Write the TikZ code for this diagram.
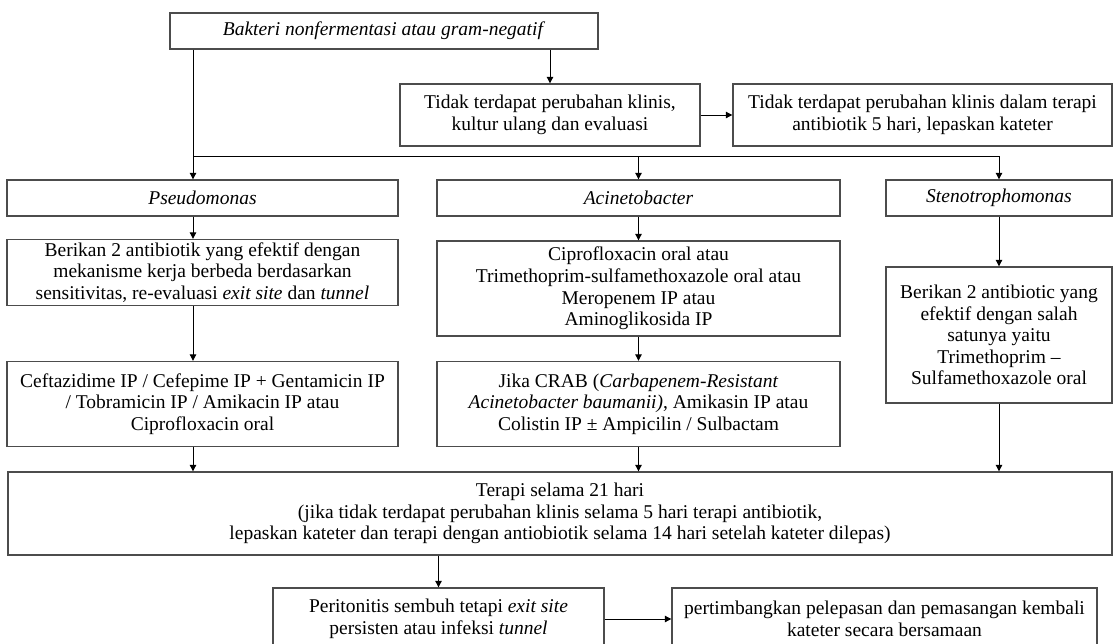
\documentclass[tikz,border=0pt]{standalone}
\usepackage{fontspec}
\setmainfont{Liberation Serif}
\usetikzlibrary{arrows.meta}

\begin{document}
\begin{tikzpicture}[
    x=0.5pt, y=-0.5pt,
    line width=0.5pt,
    >={Triangle[length=3.2pt,width=3.2pt]},
    box/.style={rectangle, draw=black!70, line width=0.7pt, align=center, inner sep=0pt, font=\fontsize{9.75}{10.8}\selectfont}
]
\useasboundingbox (0,0) rectangle (1114,643);
\clip (0,0) rectangle (1114,643);

% Top
\node[box, minimum width=214pt, minimum height=18pt] (bakteri) at (384,31) {\textit{Bakteri nonfermentasi atau gram-negatif}};
\node[box, minimum width=150pt, minimum height=31pt] (klinis) at (550,115) {Tidak terdapat perubahan klinis,\\kultur ulang dan evaluasi};
\node[box, minimum width=189.5pt, minimum height=31pt] (lepas) at (922.5,115) {Tidak terdapat perubahan klinis dalam terapi\\antibiotik 5 hari, lepaskan kateter};

% Bacteria groups
\node[box, minimum width=195.5pt, minimum height=18pt] (pseudo) at (202.5,198) {\textit{Pseudomonas}};
\node[box, minimum width=201.5pt, minimum height=18pt] (acineto) at (638.5,198) {\textit{Acinetobacter}};
\node[box, minimum width=113pt, minimum height=18pt] (steno) at (999,198) {\textit{Stenotrophomonas}};

% Therapy per group
\node[box, minimum width=195.5pt, minimum height=33pt] (pseudoA) at (202.5,272.5) {Berikan 2 antibiotik yang efektif dengan\\mekanisme kerja berbeda berdasarkan\\sensitivitas, re-evaluasi \textit{exit site} dan \textit{tunnel}};
\node[box, minimum width=195.5pt, minimum height=42.5pt] (pseudoB) at (202.5,404) {Ceftazidime IP / Cefepime IP + Gentamicin IP\\/ Tobramicin IP / Amikacin IP atau\\Ciprofloxacin oral};
\node[box, minimum width=201.5pt, minimum height=47.5pt] (acinetoA) at (638.5,288.5) {Ciprofloxacin oral atau\\Trimethoprim-sulfamethoxazole oral atau\\Meropenem IP atau\\Aminoglikosida IP};
\node[box, minimum width=201.5pt, minimum height=42.5pt] (acinetoB) at (638.5,404) {Jika CRAB (\textit{Carbapenem-Resistant}\\\textit{Acinetobacter baumanii)}, Amikasin IP atau\\Colistin IP ± Ampicilin / Sulbactam};
\node[box, minimum width=113pt, minimum height=68pt] (stenoA) at (999,335) {Berikan 2 antibiotic yang\\efektif dengan salah\\satunya yaitu\\Trimethoprim –\\Sulfamethoxazole oral};

% Bottom
\node[box, minimum width=552pt, minimum height=41.5pt] (terapi) at (560,513.5) {Terapi selama 21 hari\\(jika tidak terdapat perubahan klinis selama 5 hari terapi antibiotik,\\lepaskan kateter dan terapi dengan antiobiotik selama 14 hari setelah kateter dilepas)};
\node[box, minimum width=165.5pt, minimum height=31pt] (peri) at (438.5,619) {Peritonitis sembuh tetapi \textit{exit site}\\persisten atau infeksi \textit{tunnel}};
\node[box, minimum width=212.5pt, minimum height=31pt] (pasang) at (884.5,619) {pertimbangkan pelepasan dan pemasangan kembali\\kateter secara bersamaan};

% Arrows
\coordinate (pcol) at (193,156);
\draw[->] (bakteri.south -| pcol) -- (pseudo.north -| pcol);
\draw[->] (pcol) -| (steno.north);
\draw[->] (pcol -| acineto.north) -- (acineto.north);
\draw[->] (bakteri.south -| klinis.north) -- (klinis.north);
\draw[->] (klinis.east) -- (lepas.west);
\draw[->] (pseudo.south -| pcol) -- (pseudoA.north -| pcol);
\draw[->] (pseudoA.south -| pcol) -- (pseudoB.north -| pcol);
\draw[->] (pseudoB.south -| pcol) -- (terapi.north -| pcol);
\draw[->] (acineto.south) -- (acinetoA.north);
\draw[->] (acinetoA.south) -- (acinetoB.north);
\draw[->] (acinetoB.south) -- (terapi.north -| acinetoB.south);
\draw[->] (steno.south) -- (stenoA.north);
\draw[->] (stenoA.south) -- (terapi.north -| stenoA.south);
\draw[->] (terapi.south -| peri.north) -- (peri.north);
\draw[->] (peri.east) -- (pasang.west);
\end{tikzpicture}
\end{document}
